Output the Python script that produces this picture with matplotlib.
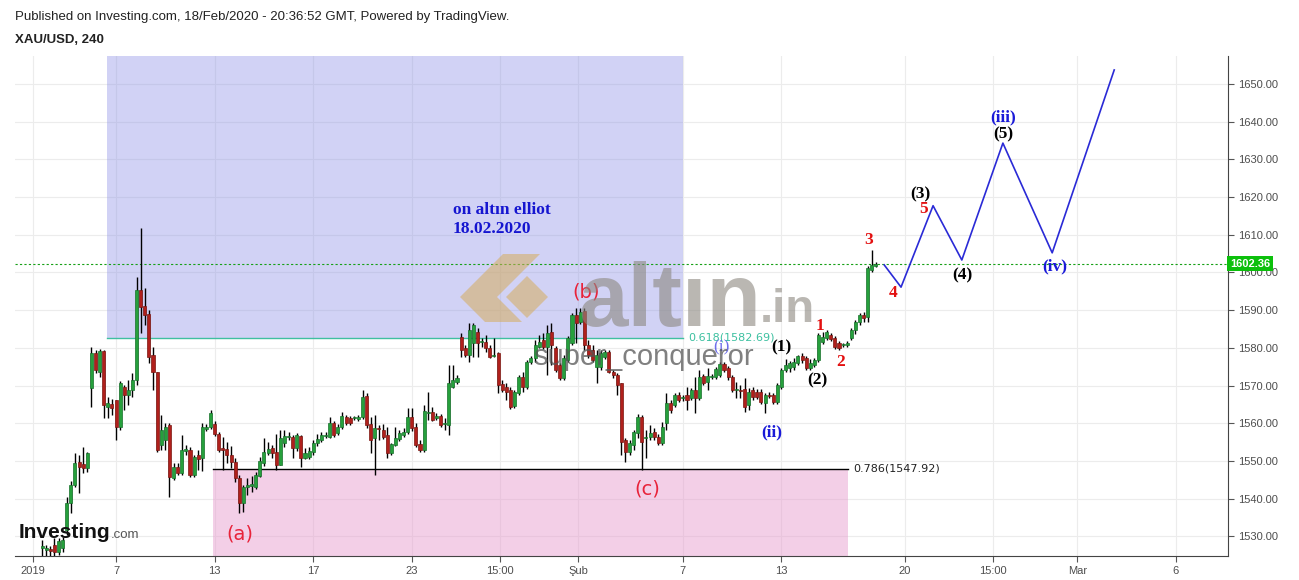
import numpy as np
import matplotlib.pyplot as plt
from matplotlib.patches import Rectangle, Polygon

# XAU/USD 4h candles, 2 Jan - 18 Feb 2020 (6 bars per trading day)
opens = [
    1526.9, 1526.4, 1526.6, 1527.7, 1525.9, 1526.9,  # Jan 2
    1531.7, 1538.9, 1543.7, 1549.8, 1549.2, 1548.1,  # Jan 3
    1569.3, 1578.6, 1573.6, 1579.1, 1564.3, 1565.1,  # Jan 6
    1566.2, 1559.0, 1569.6, 1567.5, 1568.8, 1571.5,  # Jan 7
    1595.4, 1591.1, 1589.0, 1578.1, 1573.6, 1554.3,  # Jan 8
    1555.6, 1559.6, 1545.5, 1548.4, 1546.8, 1552.6,  # Jan 9
    1552.9, 1546.3, 1551.6, 1550.8, 1558.5, 1559.0,  # Jan 10
    1559.8, 1557.1, 1553.5, 1553.2, 1551.6, 1549.8,  # Jan 13
    1545.5, 1538.9, 1543.1, 1543.4, 1543.1, 1546.0,  # Jan 14
    1549.5, 1552.1, 1553.5, 1552.4, 1549.0, 1554.8,  # Jan 15
    1556.4, 1556.4, 1553.5, 1556.6, 1550.8, 1551.1,  # Jan 16
    1552.4, 1554.8, 1555.6, 1556.6, 1556.4, 1560.1,  # Jan 17
    1557.4, 1559.0, 1561.7, 1561.4, 1561.4, 1561.2,  # Jan 20
    1561.7, 1567.2, 1559.8, 1556.1, 1558.8, 1558.2,  # Jan 21
    1556.9, 1552.1, 1554.3, 1555.9, 1556.9, 1557.7,  # Jan 22
    1561.7, 1559.0, 1554.5, 1552.9, 1562.7, 1563.0,  # Jan 23
    1561.4, 1562.0, 1559.8, 1559.6, 1569.6, 1571.0,  # Jan 24
    1582.9, 1580.0, 1578.1, 1581.3, 1584.2, 1581.6,  # Jan 27
    1581.6, 1580.0, 1577.8, 1578.6, 1570.4, 1569.6,  # Jan 28
    1568.8, 1564.6, 1568.0, 1572.3, 1569.6, 1576.3,  # Jan 29
    1577.3, 1580.2, 1582.1, 1580.2, 1584.2, 1580.0,  # Jan 30
    1575.5, 1572.0, 1576.8, 1581.3, 1588.7, 1586.9,  # Jan 31
    1589.8, 1580.8, 1579.4, 1574.9, 1574.9, 1577.6,  # Feb 3
    1578.9, 1573.6, 1572.8, 1570.7, 1555.6, 1552.4,  # Feb 4
    1554.3, 1557.4, 1561.7, 1556.1, 1556.4, 1557.7,  # Feb 5
    1556.4, 1554.8, 1560.1, 1565.4, 1564.9, 1567.5,  # Feb 6
    1566.7, 1567.5, 1566.7, 1568.8, 1566.7, 1572.5,  # Feb 7
    1571.0, 1572.3, 1572.3, 1572.8, 1575.7, 1574.6,  # Feb 10
    1572.3, 1568.8, 1568.8, 1569.1, 1564.9, 1568.8,  # Feb 11
    1568.3, 1568.3, 1565.4, 1567.5, 1567.5, 1565.6,  # Feb 12
    1569.6, 1574.1, 1574.6, 1574.9, 1576.0, 1577.8,  # Feb 13
    1577.3, 1574.6, 1575.5, 1576.8, 1581.6, 1582.6,  # Feb 14
    1583.4, 1582.6, 1581.3, 1580.8, 1580.8, 1582.6,  # Feb 17
    1584.8, 1586.9, 1588.7, 1588.2, 1600.7, 1601.7,  # Feb 18
]
highs = [
    1529.0, 1527.7, 1527.4, 1529.6, 1529.6, 1529.8,
    1540.4, 1544.7, 1552.1, 1551.6, 1553.7, 1552.4,
    1580.2, 1579.4, 1579.7, 1579.4, 1567.0, 1566.4,
    1566.2, 1571.2, 1570.2, 1571.5, 1573.3, 1598.8,
    1611.8, 1595.9, 1590.1, 1580.2, 1573.6, 1562.2,
    1560.1, 1560.1, 1549.5, 1549.5, 1556.9, 1554.3,
    1553.7, 1551.6, 1552.9, 1560.1, 1559.8, 1563.5,
    1560.6, 1557.7, 1556.4, 1555.1, 1554.0, 1550.8,
    1546.3, 1543.7, 1545.5, 1546.0, 1547.1, 1551.1,
    1556.1, 1555.1, 1554.3, 1557.2, 1558.2, 1558.2,
    1557.7, 1556.9, 1557.4, 1556.9, 1553.5, 1553.7,
    1555.6, 1557.2, 1557.7, 1557.7, 1561.7, 1560.6,
    1559.8, 1563.0, 1562.2, 1562.0, 1562.0, 1562.2,
    1568.8, 1568.0, 1561.7, 1562.2, 1559.6, 1559.8,
    1559.0, 1554.8, 1559.0, 1558.2, 1558.8, 1564.1,
    1564.1, 1560.1, 1555.6, 1564.9, 1568.3, 1564.3,
    1562.7, 1562.5, 1561.4, 1575.5, 1575.5, 1572.8,
    1584.0, 1580.8, 1586.6, 1586.6, 1585.3, 1582.6,
    1583.4, 1580.8, 1582.6, 1578.9, 1571.5, 1570.7,
    1569.6, 1568.8, 1572.8, 1573.6, 1576.8, 1577.8,
    1582.1, 1583.4, 1584.0, 1586.1, 1586.6, 1580.5,
    1576.0, 1578.1, 1583.1, 1589.3, 1590.6, 1590.6,
    1590.6, 1582.1, 1580.8, 1579.4, 1579.4, 1579.4,
    1579.4, 1574.1, 1573.3, 1570.7, 1556.1, 1555.6,
    1558.2, 1562.5, 1562.2, 1558.2, 1559.6, 1558.8,
    1557.2, 1560.4, 1568.0, 1566.2, 1568.0, 1568.3,
    1567.5, 1569.6, 1569.3, 1572.3, 1574.1, 1573.1,
    1574.7, 1573.1, 1574.9, 1576.3, 1576.3, 1575.2,
    1572.8, 1570.9, 1570.2, 1572.0, 1569.3, 1569.6,
    1569.1, 1569.1, 1568.0, 1568.3, 1568.0, 1570.7,
    1574.7, 1577.0, 1576.5, 1577.3, 1578.1, 1578.6,
    1577.8, 1577.0, 1577.3, 1584.0, 1584.2, 1584.8,
    1584.0, 1583.1, 1581.8, 1581.3, 1581.8, 1585.3,
    1587.4, 1589.3, 1589.5, 1601.7, 1606.0, 1602.8,
]
lows = [
    1524.8, 1524.3, 1524.3, 1524.8, 1525.1, 1525.9,
    1530.4, 1536.2, 1543.1, 1541.5, 1546.8, 1547.1,
    1564.3, 1573.3, 1572.3, 1561.4, 1561.4, 1562.2,
    1555.6, 1558.2, 1563.5, 1564.9, 1567.0, 1570.2,
    1584.0, 1586.1, 1576.0, 1568.8, 1552.4, 1552.9,
    1552.9, 1540.4, 1545.0, 1546.3, 1546.3, 1551.6,
    1545.8, 1545.8, 1547.6, 1547.3, 1557.9, 1558.5,
    1556.6, 1552.4, 1547.6, 1549.5, 1548.1, 1544.5,
    1536.2, 1536.5, 1540.9, 1541.8, 1542.6, 1545.8,
    1548.7, 1551.6, 1550.8, 1547.6, 1549.0, 1553.7,
    1555.6, 1550.8, 1552.6, 1548.4, 1550.6, 1550.6,
    1551.6, 1554.0, 1555.1, 1556.1, 1556.1, 1556.4,
    1556.9, 1558.5, 1559.6, 1559.6, 1560.9, 1560.6,
    1561.2, 1558.8, 1552.1, 1546.3, 1555.6, 1555.9,
    1550.8, 1551.6, 1554.0, 1555.3, 1556.4, 1557.2,
    1557.9, 1553.7, 1552.4, 1552.4, 1560.9, 1560.6,
    1560.9, 1559.0, 1558.2, 1556.9, 1569.3, 1570.4,
    1577.6, 1577.6, 1576.3, 1577.6, 1577.6, 1580.2,
    1578.9, 1577.3, 1577.6, 1568.0, 1568.3, 1566.2,
    1563.8, 1564.1, 1567.5, 1568.3, 1569.1, 1575.7,
    1576.3, 1580.0, 1579.7, 1572.8, 1575.5, 1573.6,
    1571.5, 1571.5, 1576.3, 1580.8, 1581.3, 1586.3,
    1579.4, 1577.3, 1576.3, 1570.7, 1574.1, 1577.0,
    1573.3, 1572.0, 1567.5, 1551.6, 1549.8, 1551.6,
    1552.9, 1556.1, 1547.6, 1550.8, 1555.6, 1555.6,
    1554.3, 1554.3, 1558.2, 1562.7, 1564.3, 1565.6,
    1565.9, 1563.5, 1566.2, 1562.7, 1566.2, 1570.2,
    1568.8, 1571.8, 1571.8, 1572.3, 1573.6, 1571.5,
    1568.3, 1566.7, 1566.7, 1563.0, 1563.5, 1566.2,
    1566.4, 1565.1, 1562.7, 1566.7, 1565.1, 1565.1,
    1569.1, 1573.6, 1573.6, 1574.1, 1575.5, 1576.0,
    1574.1, 1574.1, 1574.9, 1576.3, 1581.0, 1582.1,
    1581.8, 1579.7, 1579.4, 1580.2, 1580.2, 1582.1,
    1583.7, 1586.1, 1586.9, 1586.9, 1600.1, 1601.5,
]
closes = [
    1527.4, 1526.9, 1526.1, 1525.9, 1528.7, 1529.0,
    1538.9, 1543.7, 1549.5, 1548.4, 1548.1, 1552.1,
    1578.6, 1574.1, 1579.1, 1564.9, 1565.4, 1564.1,
    1559.0, 1570.7, 1567.5, 1568.8, 1571.5, 1595.4,
    1590.9, 1588.7, 1577.6, 1573.6, 1552.9, 1558.2,
    1559.0, 1545.8, 1548.4, 1546.8, 1552.9, 1553.2,
    1546.3, 1551.1, 1550.6, 1559.0, 1559.0, 1562.7,
    1557.1, 1552.9, 1552.9, 1551.6, 1549.8, 1545.5,
    1538.9, 1543.1, 1543.7, 1543.9, 1546.3, 1550.0,
    1552.4, 1553.2, 1552.1, 1549.0, 1556.1, 1556.6,
    1556.7, 1553.5, 1556.9, 1550.8, 1552.1, 1552.6,
    1554.8, 1555.9, 1556.9, 1556.9, 1560.1, 1556.9,
    1559.0, 1562.0, 1560.1, 1560.1, 1561.5, 1561.7,
    1567.0, 1559.6, 1555.6, 1558.8, 1558.5, 1556.4,
    1552.1, 1554.5, 1556.1, 1557.4, 1557.7, 1561.7,
    1558.8, 1554.3, 1552.9, 1563.3, 1562.8, 1560.9,
    1562.0, 1559.6, 1559.9, 1570.7, 1571.5, 1572.0,
    1579.4, 1578.1, 1584.8, 1586.1, 1581.3, 1581.7,
    1580.0, 1577.6, 1578.1, 1570.2, 1568.8, 1568.3,
    1564.3, 1568.3, 1572.3, 1569.6, 1576.3, 1577.3,
    1580.8, 1581.6, 1580.2, 1584.0, 1580.8, 1574.1,
    1572.0, 1577.3, 1582.6, 1588.7, 1586.6, 1589.5,
    1580.8, 1578.1, 1576.8, 1578.1, 1578.6, 1578.9,
    1573.6, 1572.8, 1570.2, 1555.1, 1552.4, 1554.8,
    1557.7, 1561.7, 1555.1, 1556.2, 1557.4, 1556.4,
    1554.8, 1559.0, 1565.4, 1563.5, 1567.5, 1566.2,
    1566.8, 1566.2, 1568.8, 1566.7, 1572.3, 1570.7,
    1572.5, 1572.5, 1574.4, 1575.7, 1574.1, 1572.3,
    1568.8, 1568.9, 1568.6, 1564.3, 1568.3, 1567.0,
    1567.0, 1565.6, 1567.5, 1567.2, 1565.6, 1570.2,
    1574.1, 1575.5, 1576.0, 1576.3, 1577.8, 1576.8,
    1574.6, 1576.0, 1576.8, 1583.4, 1582.9, 1584.2,
    1582.4, 1580.2, 1580.0, 1580.9, 1581.3, 1584.8,
    1586.9, 1588.7, 1587.9, 1601.2, 1602.0, 1602.36,
]

# projected wave path (bar index, price)
proj_x = [205.0, 209.1, 216.9, 223.9, 233.9, 245.9, 261.0]
proj_y = [1602.0, 1596.1, 1617.7, 1603.3, 1634.3, 1605.2, 1653.7]

# fib levels and zones
fib_618 = 1582.69
fib_786 = 1547.92
last_price = 1602.36
box_618 = (15.8, 156.0)
box_786 = (41.6, 196.2)

# x axis labels
tick_pos = [-2.2, 18, 42, 66, 90, 111.5, 130.5, 156, 180, 210, 231.5, 252, 276]
tick_lbl = ['2019', '7', '13', '17', '23', '15:00', 'Şub', '7', '13', '20', '15:00', 'Mar', '6']

# wave labels: (text, x, y, colour)
waves = [
    ('(1)', 179.9, 1580.2, 'black'), ('(2)', 188.7, 1571.5, 'black'),
    ('(3)', 213.7, 1620.8, 'black'), ('(4)', 224.0, 1599.1, 'black'),
    ('(5)', 233.9, 1636.5, 'black'),
    ('1', 189.4, 1585.8, '#e31010'), ('2', 194.3, 1576.3, '#e31010'),
    ('3', 201.3, 1608.6, '#e31010'), ('4', 207.2, 1594.6, '#e31010'),
    ('5', 214.5, 1616.8, '#e31010'),
    ('(ii)', 177.7, 1557.7, '#1a1ad8'), ('(iii)', 233.9, 1641.0, '#1a1ad8'),
    ('(iv)', 246.6, 1601.5, '#1a1ad8'),
]
abc = [('(a)', 48.2, 1530.6), ('(b)', 132.4, 1594.8), ('(c)', 147.3, 1542.7)]

W, H = 1299, 580
fig = plt.figure(figsize=(W / 100, H / 100), dpi=100)
ax = fig.add_axes([15 / W, 1 - 556 / H, (1228 - 15) / W, (556 - 56) / H])
ax.set_xlim(-6.6, 288.7)
ax.set_ylim(1524.8, 1657.4)

# grid
ax.set_yticks(np.arange(1530, 1651, 10))
ax.set_xticks(tick_pos)
ax.set_xticklabels(tick_lbl)
ax.grid(True, color='#ececec', lw=0.8, zorder=0)
ax.set_axisbelow(True)

# zones
ax.add_patch(Rectangle((box_618[0], fib_618), box_618[1] - box_618[0], 80,
                       facecolor='#8c90e6', alpha=0.4, lw=0, zorder=1))
ax.add_patch(Rectangle((box_786[0], 1500), box_786[1] - box_786[0], fib_786 - 1500,
                       facecolor='#e8a0d0', alpha=0.5, lw=0, zorder=1))
ax.plot(box_618, [fib_618, fib_618], color='#3fbfa0', lw=1, zorder=2)
ax.plot(box_786, [fib_786, fib_786], color='black', lw=1, zorder=2)
ax.text(box_618[1] + 1.2, fib_618, '0.618(1582.69)', color='#3cc0a0', fontsize=8,
        va='center', ha='left', zorder=5)
ax.text(box_786[1] + 1.2, fib_786, '0.786(1547.92)', color='#222222', fontsize=8,
        va='center', ha='left', zorder=5)

# watermark
wm = '#8c8880'
fig.text(578 / W, 1 - 326 / H, 'altın', fontsize=64, fontweight='bold', color=wm,
         alpha=0.6, family='Liberation Sans', ha='left', va='baseline')
fig.text(760 / W, 1 - 322 / H, '.in', fontsize=34, fontweight='bold', color=wm,
         alpha=0.6, family='Liberation Sans', ha='left', va='baseline')
logo1 = [(460, 297), (503, 254), (540, 254), (497, 297), (522, 322), (485, 322)]
logo2 = [(506, 297), (527, 276), (548, 297), (527, 318)]
for pts in (logo1, logo2):
    fig.add_artist(Polygon([(x / W, 1 - y / H) for x, y in pts], closed=True,
                           facecolor='#d6ac5c', edgecolor='none', alpha=0.55,
                           transform=fig.transFigure))
fig.text(533 / W, 1 - 357 / H, 'super_conqueror', fontsize=21, color='#555555',
         alpha=0.75, family='Liberation Sans', ha='left', va='center', zorder=6)

# candles
x = np.arange(len(closes))
o = np.array(opens)
c = np.array(closes)
up = c >= o
ax.vlines(x, lows, highs, color='black', lw=1, zorder=3)
body_lo = np.minimum(o, c)
body_h = np.maximum(np.abs(c - o), 0.35)
ax.bar(x[up], body_h[up], bottom=body_lo[up], width=0.74, color='#26a03c',
       edgecolor='#16702a', lw=0.5, zorder=4)
ax.bar(x[~up], body_h[~up], bottom=body_lo[~up], width=0.74, color='#b0201c',
       edgecolor='#7a1510', lw=0.5, zorder=4)

# last price line
ax.axhline(last_price, color='#16a016', lw=0.8, ls=(0, (2, 2)), zorder=2)
ax.text(1.0015, last_price, '1602.36', transform=ax.get_yaxis_transform(),
        fontsize=8, fontweight='bold', color='white', ha='left', va='center',
        family='Liberation Sans',
        bbox=dict(boxstyle='square,pad=0.25', facecolor='#0cc00c', edgecolor='none'),
        zorder=7, clip_on=False)

# projection
ax.plot(proj_x, proj_y, color='#2a2ad6', lw=1.2, zorder=5)

# labels
for t, xx, yy, col in waves:
    ax.text(xx, yy, t, color=col, fontsize=12.5, fontweight='bold', family='Liberation Serif',
            ha='center', va='center', zorder=6)
ax.text(165.3, 1580.0, '(i)', color='#4a4ae6', fontsize=12.5, family='Liberation Serif',
        ha='center', va='center', zorder=6, alpha=0.8)
for t, xx, yy in abc:
    ax.text(xx, yy, t, color='#e8233a', fontsize=14, ha='center', va='center', zorder=6)
ax.text(100.0, 1614.0, 'on altın elliot\n18.02.2020', color='#1515d0', fontsize=12.5,
        fontweight='bold', family='Liberation Serif', ha='left', va='center',
        linespacing=1.3, zorder=6)

# axes styling
ax.yaxis.tick_right()
ax.yaxis.set_major_formatter(plt.FuncFormatter(lambda v, p: f'{v:.2f}'))
for s in ['left', 'top']:
    ax.spines[s].set_visible(False)
for s in ['right', 'bottom']:
    ax.spines[s].set_color('#444444')
ax.tick_params(axis='both', labelsize=8, labelcolor='#4d4d4d', color='#555555', length=4)
for lbl in ax.get_xticklabels() + ax.get_yticklabels():
    lbl.set_family('Liberation Sans')

# header and footer branding
fig.text(15 / W, 1 - 17 / H, 'Published on Investing.com, 18/Feb/2020 - 20:36:52 GMT, Powered by TradingView.',
         fontsize=9.5, color='#222222', family='Liberation Sans', va='center', ha='left')
fig.text(15 / W, 1 - 40 / H, 'XAU/USD, 240', fontsize=9.5, fontweight='bold', color='#222222',
         family='Liberation Sans', va='center', ha='left')
fig.text(19 / W, 1 - 533 / H, 'Investing', fontsize=15, fontweight='bold', color='#111111',
         family='Liberation Sans', va='center', ha='left', zorder=8)
fig.text(111 / W, 1 - 535 / H, '.com', fontsize=9.5, color='#555555',
         family='Liberation Sans', va='center', ha='left', zorder=8)

fig.savefig('out.png', dpi=100)
